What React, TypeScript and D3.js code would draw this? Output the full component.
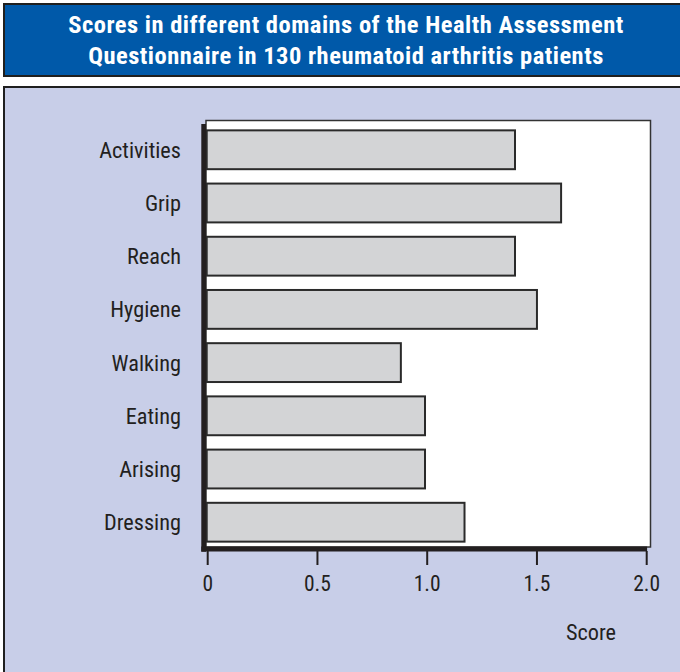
import React from "react";
import * as d3 from "d3";

const categories = ["Activities", "Grip", "Reach", "Hygiene", "Walking", "Eating", "Arising", "Dressing"];
const scores = [1.4, 1.61, 1.4, 1.5, 0.88, 0.99, 0.99, 1.17];
const xTicks = [0, 0.5, 1.0, 1.5, 2.0];
const xTickLabels = ["0", "0.5", "1.0", "1.5", "2.0"];
const titleLines = [
  "Scores in different domains of the Health Assessment",
  "Questionnaire in 130 rheumatoid arthritis patients",
];
const xLabel = "Score";

const FONT = "'Liberation Sans Narrow', 'Arial Narrow', 'Roboto Condensed', 'Liberation Sans', sans-serif";

export default function App() {
  const W = 680, H = 672;
  const x = d3.scaleLinear().domain([0, 2]).range([207.7, 646.7]);
  const y = d3.scaleBand<string>().domain(categories).range([124.5, 547.5]).paddingInner(0.27).paddingOuter(0.11);
  const data = categories.map((c, i) => ({ c, v: scores[i] }));

  return (
    <svg width={W} height={H} style={{ position: "absolute", left: 0, top: 0 }} xmlns="http://www.w3.org/2000/svg">
      <rect x={0} y={0} width={W} height={H} fill="#ffffff" />
      {/* title box */}
      <rect x={4} y={4} width={700} height={72} fill="#0059A9" stroke="#1f1f1f" strokeWidth={2} />
      {titleLines.map((t, i) => (
        <text key={i} x={346} y={33 + i * 31} textAnchor="middle" fill="#ffffff" fontFamily={FONT} fontWeight="bold" fontSize={24.5} letterSpacing={0.5}>
          {t}
        </text>
      ))}
      {/* panel */}
      <rect x={4} y={87} width={700} height={600} fill="#C8CEE8" stroke="#1f1f1f" strokeWidth={2} />
      {/* plot area */}
      <rect x={206} y={120.5} width={444.5} height={426.5} fill="#ffffff" stroke="#333" strokeWidth={1.5} />
      {/* bars */}
      {data.map((d) => (
        <rect
          key={d.c}
          x={x(0) - 1}
          y={y(d.c)!}
          width={x(d.v) - x(0) + 1}
          height={y.bandwidth()}
          fill="#D3D4D6"
          stroke="#2a2a2a"
          strokeWidth={2}
        />
      ))}
      {/* thick axes */}
      <rect x={201.3} y={124} width={4.7} height={427.7} fill="#231f20" />
      <rect x={201.3} y={546.5} width={445.8} height={5} fill="#231f20" />
      {/* ticks */}
      {xTicks.map((t, i) => (
        <g key={i}>
          <line x1={x(t)} x2={x(t)} y1={551} y2={565} stroke="#231f20" strokeWidth={2} />
          <text x={x(t)} y={591} textAnchor="middle" fontFamily={FONT} fontSize={21.5} fill="#231f20">
            {xTickLabels[i]}
          </text>
        </g>
      ))}
      {/* category labels */}
      {data.map((d) => (
        <text
          key={d.c}
          x={181}
          y={y(d.c)! + y.bandwidth() / 2}
          dy="0.36em"
          textAnchor="end"
          fontFamily={FONT}
          fontSize={22.3}
          fill="#231f20"
        >
          {d.c}
        </text>
      ))}
      <text x={591} y={640} textAnchor="middle" fontFamily={FONT} fontSize={22.3} fill="#231f20">
        {xLabel}
      </text>
    </svg>
  );
}
